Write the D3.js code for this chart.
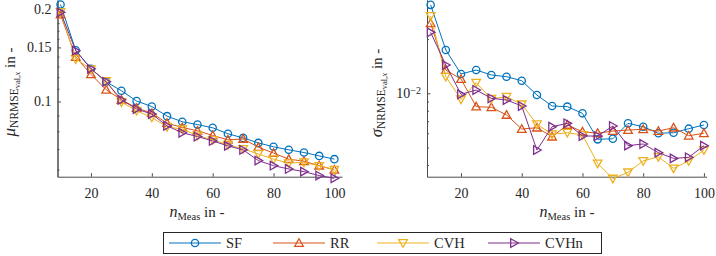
<!DOCTYPE html>
<html>
<head>
<meta charset="utf-8">
<script src="https://cdn.jsdelivr.net/npm/d3@7"></script>
<style>
  body { margin: 0; background: #fff; }
  .axis path, .axis line { stroke: #4d4d4d; }
  .axis text { fill: #262626; font-size: 14px; }
</style>
</head>
<body>
<div id="chart"></div>
<script>
// number of measurements
const nMeas = [10, 15, 20, 25, 30, 35, 40, 45, 50, 55, 60, 65, 70, 75, 80, 85, 90, 95, 100];

// mean NRMSE (left panel)
const muSF   = [0.2068, 0.1467, 0.1278, 0.1159, 0.1084, 0.1003, 0.0963, 0.0896, 0.0859, 0.0841, 0.0821, 0.0785, 0.0761, 0.0733, 0.0712, 0.0696, 0.0682, 0.0665, 0.0649];
const muRR   = [0.1918, 0.1396, 0.1225, 0.1092, 0.1013, 0.0952, 0.0917, 0.0850, 0.0823, 0.0803, 0.0775, 0.0750, 0.0755, 0.0710, 0.0679, 0.0649, 0.0639, 0.0618, 0.0599];
const muCVH  = [0.1957, 0.1375, 0.1275, 0.1166, 0.0996, 0.0933, 0.0887, 0.0827, 0.0813, 0.0775, 0.0750, 0.0723, 0.0701, 0.0675, 0.0649, 0.0630, 0.0634, 0.0617, 0.0600];
const muCVHn = [0.1951, 0.1464, 0.1278, 0.1159, 0.1013, 0.0945, 0.0910, 0.0833, 0.0791, 0.0769, 0.0744, 0.0717, 0.0696, 0.0642, 0.0618, 0.0603, 0.0591, 0.0574, 0.0562];

// std of NRMSE (right panel)
const sdSF   = [0.0310, 0.0174, 0.0128, 0.01347, 0.01264, 0.01236, 0.01175, 0.00978, 0.00850, 0.00843, 0.00774, 0.00555, 0.00559, 0.00681, 0.00652, 0.00600, 0.00604, 0.00636, 0.00667];
const sdRR   = [0.0245, 0.01347, 0.0120, 0.00843, 0.00836, 0.00758, 0.00633, 0.00644, 0.00574, 0.00667, 0.00612, 0.00600, 0.00617, 0.00625, 0.00631, 0.00617, 0.00644, 0.00581, 0.00600];
const sdCVH  = [0.0269, 0.01236, 0.00926, 0.01145, 0.00933, 0.00957, 0.00869, 0.00673, 0.00592, 0.00604, 0.00587, 0.00408, 0.00336, 0.00364, 0.00421, 0.00444, 0.00383, 0.00421, 0.00484];
const sdCVHn = [0.0218, 0.01436, 0.00987, 0.01043, 0.00938, 0.00918, 0.00850, 0.00484, 0.00652, 0.00681, 0.00579, 0.00579, 0.00658, 0.00512, 0.00523, 0.00468, 0.00435, 0.00441, 0.00512];

const seriesNames = ["SF", "RR", "CVH", "CVHn"];
const colors = ["#0072BD", "#D95319", "#EDB120", "#7E2F8E"];
const shapes = ["circle", "up", "down", "right"];

const xTicks = [20, 40, 60, 80, 100];
const muTicks = [0.1, 0.15, 0.2];
const muMinor = [0.06, 0.07, 0.08, 0.09, 0.11, 0.12, 0.13, 0.14, 0.16, 0.17, 0.18, 0.19];
const sdTicks = [0.01];
const sdMinor = [0.004, 0.005, 0.006, 0.007, 0.008, 0.009, 0.02, 0.03];

const serif = "'Liberation Serif', 'DejaVu Serif', serif";
const width = 716, height = 256;
const svg = d3.select("#chart").append("svg")
    .attr("width", width)
    .attr("height", height)
    .attr("font-family", serif);

function markerPath(shape) {
  if (shape === "circle") return d3.symbol(d3.symbolCircle, 42)();
  if (shape === "up") return "M0,-4.3L4.3,3.3L-4.3,3.3Z";
  if (shape === "down") return "M0,4.3L4.3,-3.3L-4.3,-3.3Z";
  return "M-3.3,-4.3L4.3,0L-3.3,4.3Z";
}

function drawPanel(opts) {
  const x = d3.scaleLinear().domain(opts.xDomain).range(opts.xRange);
  const y = d3.scaleLog().domain(opts.yDomain).range([176.7, 0]);
  const g = svg.append("g");

  // x axis, ticks inside
  g.append("g")
      .attr("class", "axis")
      .attr("transform", "translate(0,176.7)")
      .call(d3.axisBottom(x).tickValues(xTicks).tickSizeInner(-3.5).tickSizeOuter(0).tickPadding(11.5))
      .attr("font-family", serif);

  // y minor ticks
  g.append("g")
      .attr("class", "axis")
      .attr("transform", `translate(${opts.xRange[0]},0)`)
      .call(d3.axisLeft(y).tickValues(opts.minor).tickSizeInner(-2).tickSizeOuter(0).tickFormat(""));

  const yAxis = g.append("g")
      .attr("class", "axis")
      .attr("transform", `translate(${opts.xRange[0]},0)`)
      .call(d3.axisLeft(y).tickValues(opts.major).tickSizeInner(-3.5).tickSizeOuter(0)
        .tickPadding(6).tickFormat(d3.format("")))
      .attr("font-family", serif);
  if (opts.powerLabels) {
    yAxis.selectAll(".tick text").each(function(d) {
      const t = d3.select(this).text(null);
      t.append("tspan").text("10");
      t.append("tspan").attr("dy", "-0.45em").attr("font-size", "10px")
        .text("\u2212" + Math.round(-Math.log10(d)));
    });
  }

  const line = d3.line().x((d, i) => x(nMeas[i])).y(d => y(d));
  opts.series.forEach((vals, k) => {
    g.append("path")
        .datum(vals)
        .attr("fill", "none")
        .attr("stroke", colors[k])
        .attr("stroke-width", 1)
        .attr("d", line);
    g.selectAll(".m" + k)
      .data(vals)
      .join("path")
        .attr("class", "m" + k)
        .attr("transform", (d, i) => `translate(${x(nMeas[i])},${y(d)})`)
        .attr("d", markerPath(shapes[k]))
        .attr("fill", "none")
        .attr("stroke", colors[k])
        .attr("stroke-width", 1.3);
  });

  // y label
  const yl = g.append("text")
      .attr("transform", `translate(${opts.yLabelX},${opts.yLabelY}) rotate(-90)`)
      .attr("text-anchor", "middle")
      .attr("fill", "#262626")
      .attr("font-size", "15px");
  yl.append("tspan").attr("font-style", "italic").attr("font-size", "17px").text(opts.sym);
  yl.append("tspan").attr("font-size", "11.5px").attr("dy", 3).text("NRMSE");
  yl.append("tspan").attr("font-size", "8.5px").attr("dy", 2).text("val,");
  yl.append("tspan").attr("font-size", "9px").attr("font-style", "italic").text("x");
  yl.append("tspan").attr("dy", -5).text(" in -");

  // x label
  const xl = g.append("text")
      .attr("x", opts.xLabelX)
      .attr("y", 216.5)
      .attr("text-anchor", "middle")
      .attr("fill", "#262626")
      .attr("font-size", "15px");
  xl.append("tspan").attr("font-style", "italic").attr("font-size", "16px").text("n");
  xl.append("tspan").attr("font-size", "10.5px").attr("dy", 3).text("Meas");
  xl.append("tspan").attr("dy", -3).text(" in -");
}

drawPanel({
  xDomain: [9, 102.5], xRange: [57.5, 342],
  yDomain: [0.0569, 0.214],
  major: muTicks, minor: muMinor,
  series: [muSF, muRR, muCVH, muCVHn],
  sym: "\u03bc", yLabelX: 15, yLabelY: 92, xLabelX: 197
});

drawPanel({
  xDomain: [8.8, 100.85], xRange: [427, 706.5],
  yDomain: [Math.pow(10, -2.4633), Math.pow(10, -1.4817)],
  major: sdTicks, minor: sdMinor, powerLabels: true,
  series: [sdSF, sdRR, sdCVH, sdCVHn],
  sym: "\u03c3", yLabelX: 382, yLabelY: 93, xLabelX: 567
});

// legend
const legend = svg.append("g");
legend.append("rect")
    .attr("x", 163.5).attr("y", 232.5)
    .attr("width", 438).attr("height", 21)
    .attr("fill", "#fff")
    .attr("stroke", "#262626")
    .attr("stroke-width", 1);

const legendX = [169, 273, 377, 488];
seriesNames.forEach((name, k) => {
  const lg = legend.append("g").attr("transform", `translate(${legendX[k]},243)`);
  lg.append("line")
      .attr("x1", 0).attr("x2", 52)
      .attr("stroke", colors[k]).attr("stroke-width", 1);
  lg.append("path")
      .attr("transform", "translate(26,0)")
      .attr("d", markerPath(shapes[k]))
      .attr("fill", "none")
      .attr("stroke", colors[k])
      .attr("stroke-width", 1.3);
  lg.append("text")
      .attr("x", 57).attr("y", 4.5)
      .attr("fill", "#262626")
      .attr("font-size", "14.5px")
      .text(name);
});
</script>
</body>
</html>
